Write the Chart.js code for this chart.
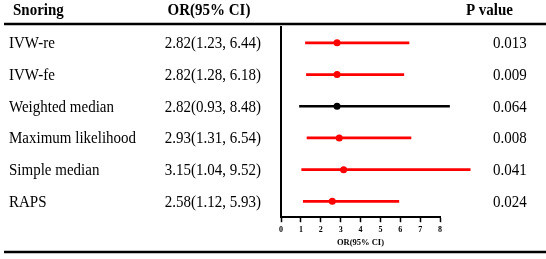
<!DOCTYPE html>
<html>
<head>
<meta charset="utf-8">
<script src="https://cdn.jsdelivr.net/npm/chart.js@4.4.0/dist/chart.umd.min.js"></script>
<style>
  html, body { margin: 0; padding: 0; background: #fff; }
  #wrap { width: 546px; height: 259px; }
</style>
</head>
<body>
<div id="wrap"><canvas id="forest" width="546" height="259"></canvas></div>
<script>
// table data
const methods = ["IVW-re", "IVW-fe", "Weighted median", "Maximum likelihood", "Simple median", "RAPS"];
const orValues = [2.82, 2.82, 2.82, 2.93, 3.15, 2.58];
const lowerCI = [1.23, 1.28, 0.93, 1.31, 1.04, 1.12];
const upperCI = [6.44, 6.18, 8.48, 6.54, 9.52, 5.93];
const pValues = ["0.013", "0.009", "0.064", "0.008", "0.041", "0.024"];
const xTicks = [0, 1, 2, 3, 4, 5, 6, 7, 8];

const rowColors = methods.map(m => m === "Weighted median" ? "#000000" : "#ff0000");
const serif = "'Liberation Serif', 'Times New Roman', serif";

function orText(i) {
    return orValues[i].toFixed(2) + "(" + lowerCI[i].toFixed(2) + ", " + upperCI[i].toFixed(2) + ")";
}

// draws text slightly stretched vertically like the source image
function stretchedText(ctx, text, x, y, align) {
    ctx.save();
    ctx.translate(x, y);
    ctx.scale(1, 1.1);
    ctx.textAlign = align;
    ctx.fillText(text, 0, 0);
    ctx.restore();
}

const tablePlugin = {
    id: "tableText",
    afterDraw(chart) {
        const ctx = chart.ctx;
        const yScale = chart.scales.y;
        ctx.save();
        ctx.fillStyle = "#000";
        ctx.textBaseline = "alphabetic";

        // header
        ctx.font = "bold 15px " + serif;
        stretchedText(ctx, "Snoring", 13, 15, "left");
        stretchedText(ctx, "OR(95% CI)", 209, 15, "center");
        stretchedText(ctx, "P value", 513, 15, "right");

        // rules
        ctx.strokeStyle = "#000";
        ctx.lineWidth = 2.5;
        ctx.beginPath();
        ctx.moveTo(4, 24);
        ctx.lineTo(546, 24);
        ctx.moveTo(4, 252);
        ctx.lineTo(546, 252);
        ctx.stroke();

        // rows
        ctx.font = "15px " + serif;
        methods.forEach((m, i) => {
            const y = yScale.getPixelForValue(i) + 5.5;
            stretchedText(ctx, m, 9, y, "left");
            stretchedText(ctx, orText(i), 261, y, "right");
            stretchedText(ctx, pValues[i], 493, y, "left");
        });
        ctx.restore();
    }
};

new Chart(document.getElementById("forest"), {
    type: "bar",
    data: {
        labels: methods,
        datasets: [
            {
                type: "line",
                data: orValues,
                showLine: false,
                pointRadius: 3.5,
                pointHoverRadius: 3.5,
                pointBackgroundColor: rowColors,
                pointBorderWidth: 0,
                clip: false,
                order: 0
            },
            {
                data: lowerCI.map((l, i) => [l, upperCI[i]]),
                backgroundColor: rowColors,
                barThickness: 2,
                clip: false,
                order: 1
            }
        ]
    },
    options: {
        responsive: false,
        animation: false,
        indexAxis: "y",
        layout: { padding: { top: 27, left: 281, right: 106, bottom: 9 } },
        plugins: {
            legend: { display: false },
            tooltip: { enabled: false }
        },
        scales: {
            x: {
                type: "linear",
                min: 0,
                max: 8,
                afterBuildTicks(scale) {
                    scale.ticks = xTicks.map(v => ({ value: v }));
                },
                ticks: {
                    color: "#000",
                    padding: 3,
                    font: { family: serif, size: 8, weight: "bold" }
                },
                grid: {
                    drawOnChartArea: false,
                    tickLength: 5,
                    tickWidth: 1.5,
                    tickColor: "#000"
                },
                border: { color: "#000", width: 2 },
                title: {
                    display: true,
                    text: "OR(95% CI)",
                    color: "#000",
                    padding: { top: 0, bottom: 2 },
                    font: { family: serif, size: 8.5, weight: "bold" }
                }
            },
            y: {
                type: "category",
                offset: true,
                ticks: { display: false },
                grid: { display: false, drawTicks: false },
                border: { display: true, color: "#000", width: 2 },
                afterFit(scale) {
                    scale.width = 0;
                }
            }
        }
    },
    plugins: [tablePlugin]
});
</script>
</body>
</html>
